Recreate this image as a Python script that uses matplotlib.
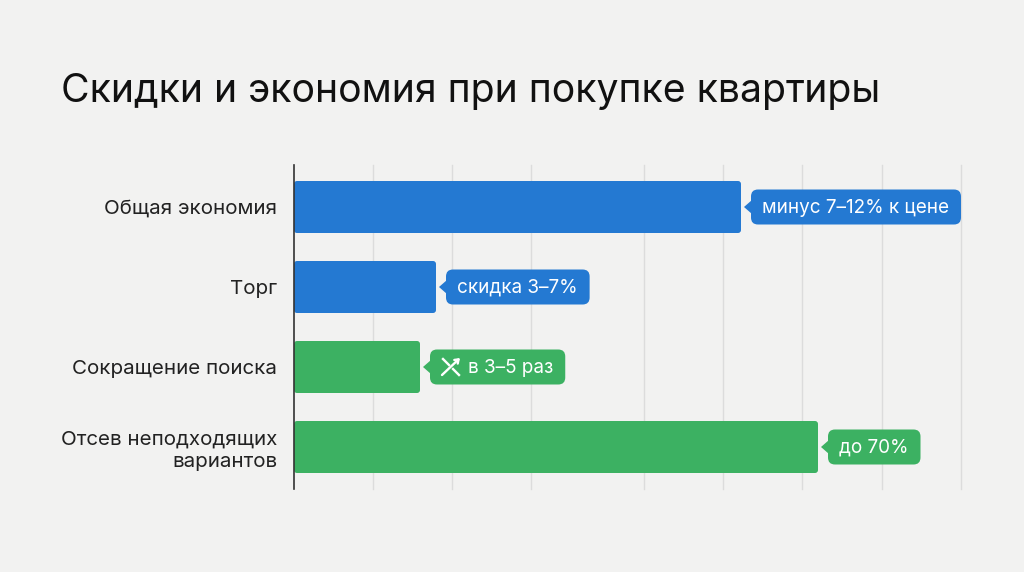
import matplotlib
matplotlib.use("Agg")
import matplotlib.pyplot as plt
from matplotlib.patches import FancyBboxPatch, Polygon

categories = ["Общая экономия", "Торг", "Сокращение поиска", "Отсев неподходящих\nвариантов"]
values = [447, 142, 126, 524]
callouts = ["минус 7–12% к цене", "скидка 3–7%", "в 3–5 раз", "до 70%"]
colors = ["#2479D2", "#2479D2", "#3CB162", "#3CB162"]
grid_lines = [79, 158, 237, 350, 429, 508, 588, 667]

BG = "#F2F2F1"
plt.rcParams["font.family"] = ["Inter", "DejaVu Sans"]

fig = plt.figure(figsize=(10.24, 5.72), dpi=100, facecolor=BG)
# axes box is placed to match the pixel layout, 1 x unit = 1 px
ax = fig.add_axes([294 / 1024, 1 - 489 / 572, 667 / 1024, 324 / 572], facecolor="none")
ax.set_xlim(0, 667)
ax.set_ylim(3.525, -0.525)
y_px = 1 / 80  # one pixel in y units

for g in grid_lines:
    ax.axvline(g, color="#DCDCDC", lw=1.0, zorder=1, clip_on=False)

for i, (v, c) in enumerate(zip(values, colors)):
    h = 52 * y_px
    ax.add_patch(FancyBboxPatch((0, i - h / 2), v, h, boxstyle="round,pad=0,rounding_size=3",
                                mutation_aspect=y_px, fc=c, ec="none", zorder=2))

fig.canvas.draw()
renderer = fig.canvas.get_renderer()
for i, (v, c, s) in enumerate(zip(values, colors, callouts)):
    left = v + 10
    icon = 27 if "раз" in s else 0
    t = ax.text(left + 11 + icon, i + 1 * y_px, s, color="white", fontsize=13.6, va="center", ha="left", zorder=4)
    ext = t.get_window_extent(renderer)
    right = ax.transData.inverted().transform((ext.x1, ext.y0))[0] + 12
    h = 35 * y_px
    ax.add_patch(FancyBboxPatch((left, i - h / 2), right - left, h, boxstyle="round,pad=0,rounding_size=7",
                                mutation_aspect=y_px, fc=c, ec="none", zorder=3, clip_on=False))
    ax.add_patch(Polygon([(left + 1, i - 7 * y_px), (left - 7, i), (left + 1, i + 7 * y_px)],
                         closed=True, fc=c, ec="none", zorder=3))
    if icon:
        # crossing arrows icon in the green label
        x0 = left + 12
        lw = 1.7
        ax.annotate("", xy=(x0 + 18, i - 9 * y_px), xytext=(x0, i + 8 * y_px), zorder=5,
                    arrowprops=dict(arrowstyle="->,head_length=0.25,head_width=0.18", color="white", lw=lw,
                                    shrinkA=0, shrinkB=0))
        ax.plot([x0 + 1, x0 + 7], [i - 8 * y_px, i - 2 * y_px], color="white", lw=lw, zorder=5)
        ax.plot([x0 + 11, x0 + 17], [i + 2 * y_px, i + 8 * y_px], color="white", lw=lw, zorder=5)

for side in ["top", "right", "bottom"]:
    ax.spines[side].set_visible(False)
ax.spines["left"].set_color("#333333")
ax.spines["left"].set_linewidth(1.2)
ax.spines["left"].set_zorder(6)

ax.set_xticks([])
ax.set_yticks(range(len(categories)))
ax.set_yticklabels(categories, fontsize=14.8, color="#222222", linespacing=1.3)
ax.tick_params(axis="y", length=0, pad=12)

fig.text(61 / 1024, 1 - 92 / 572, "Скидки и экономия при покупке квартиры", fontsize=28.2,
         color="#111111", va="center", ha="left")

fig.savefig("out.png", dpi=100, facecolor=BG)
